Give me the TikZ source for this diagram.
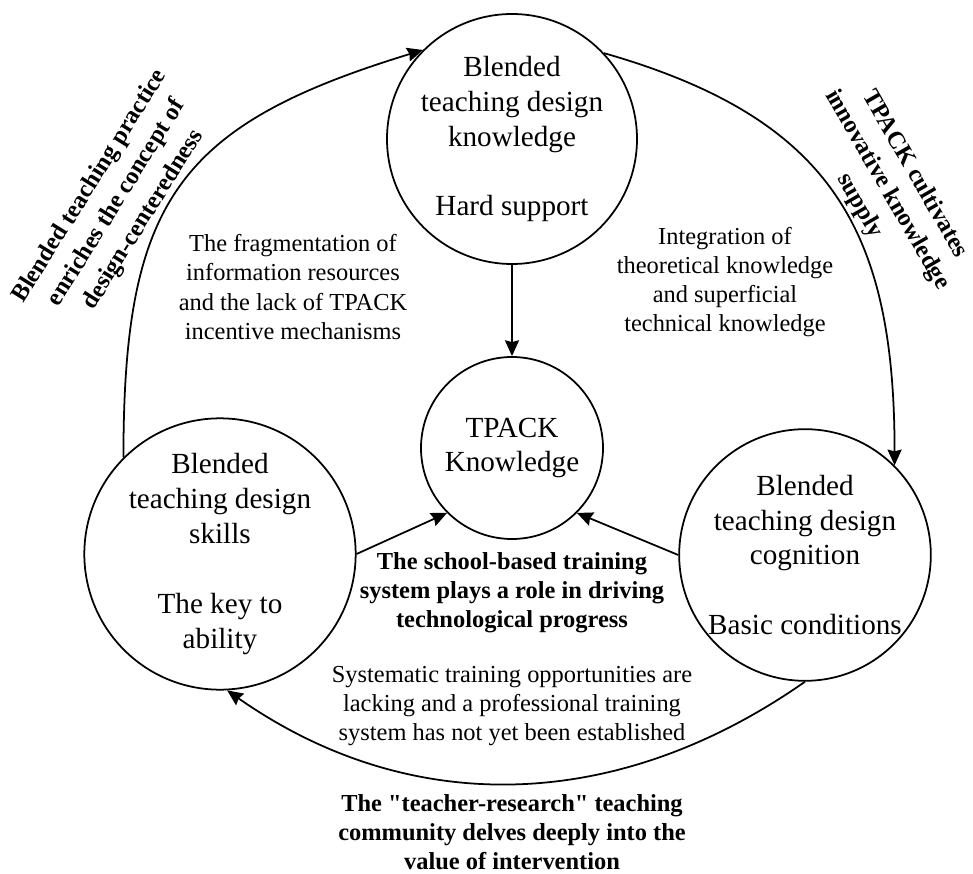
\documentclass[tikz,border=0pt]{standalone}
\usepackage{fontspec}
\setmainfont{Liberation Serif}[Ligatures=TeXOff]
\usetikzlibrary{positioning,arrows.meta}

\begin{document}
\begin{tikzpicture}[auto, on grid, line width=1pt,
                    main node/.style={circle,draw,minimum size=5cm,inner sep=0pt,align=center,font=\fontsize{16.6}{19.9}\selectfont},
                    note/.style={align=center,font=\fontsize{13.9}{16.6}\selectfont},
                    bold note/.style={note,font=\fontsize{13.9}{16.6}\selectfont\bfseries},
                    side note/.style={note,font=\fontsize{13.9}{18}\selectfont\bfseries},
                    every edge/.style={draw,-{Stealth[length=9pt,width=8pt,inset=1pt]}}]

  \useasboundingbox (-10.24,-8.5) rectangle (9.22,8.96);

  \node[main node, minimum size=3.64cm] (tpack) {TPACK\\Knowledge};
  \node[main node] (know) [above=6.18cm of tpack] {Blended\\teaching design\\knowledge\\[19.9pt]Hard support};
  \node[main node] (skills) [below left=2.12cm and 5.84cm of tpack] {Blended\\teaching design\\skills\\[19.9pt]The key to\\ability};
  \node[main node] (cog) [below right=2.14cm and 5.86cm of tpack] {Blended\\teaching design\\cognition\\[19.9pt]Basic conditions};

  \node[note] (frag) [above left=3.22cm and 4.38cm of tpack] {The fragmentation of\\information resources\\and the lack of TPACK\\incentive mechanisms};
  \node[note] (integ) [above right=3.32cm and 4.26cm of tpack] {Integration of\\theoretical knowledge\\and superficial\\technical knowledge};
  \node[bold note] (school) [below=2.9cm of tpack] {The school-based training\\system plays a role in driving\\technological progress};
  \node[note] (lack) [below=5.16cm of tpack] {Systematic training opportunities are\\lacking and a professional training\\system has not yet been established};
  \node[bold note] (commun) [below=7.68cm of tpack] {The "teacher-research" teaching\\community delves deeply into the\\value of intervention};
  \node[side note, rotate=58] (enrich) [above left=4.9cm and 7.9cm of tpack] {Blended teaching practice\\enriches the concept of\\design-centeredness};
  \node[side note, rotate=-60] (supply) [above right=5.16cm and 7.5cm of tpack] {TPACK cultivates\\innovative knowledge\\supply};

\path
    (know) edge (tpack)
    (skills.east) edge (tpack.225)
    (cog.west) edge (tpack.-45)
    (skills.135) edge[out=90, in=197, looseness=1.3] (know.135)
    (know.43) edge[out=-16, in=90, looseness=1.2] (cog.45)
    (cog.-90) edge[out=215, in=-35] (skills.-87);

\end{tikzpicture}
\end{document}
